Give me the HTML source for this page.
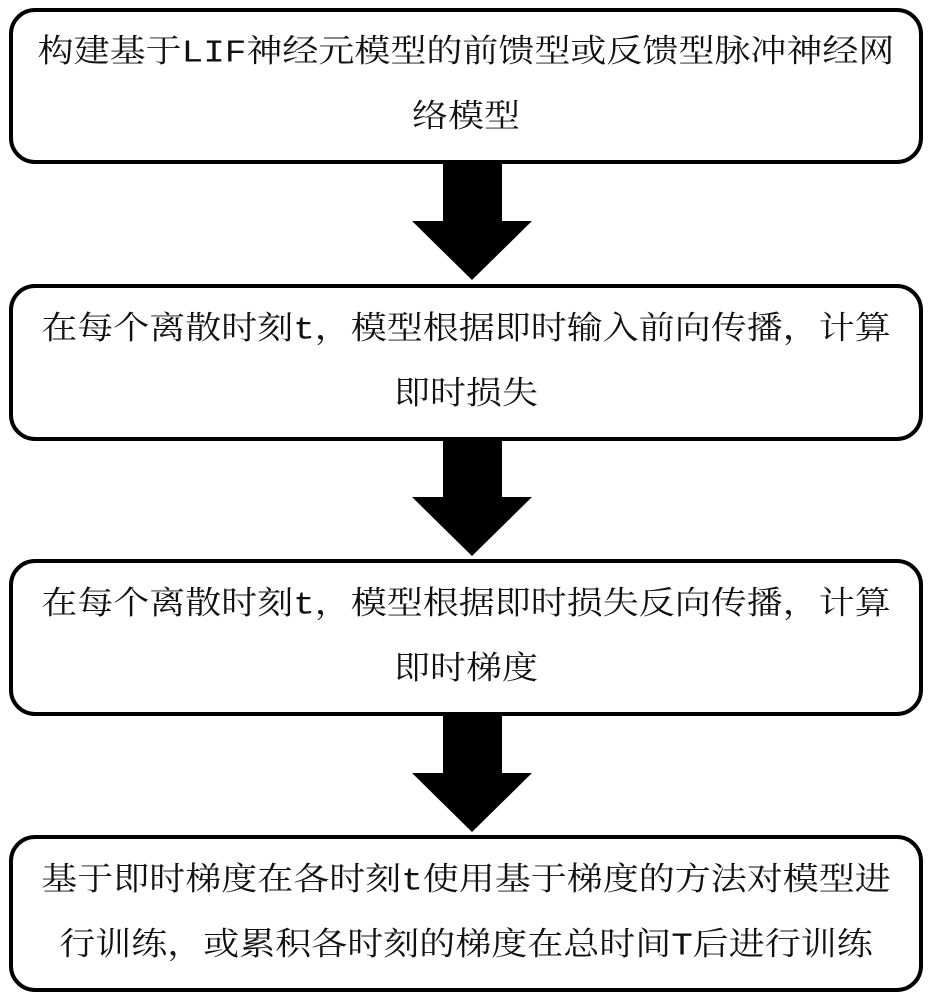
<!DOCTYPE html>
<html><head><meta charset="utf-8"><style>
body{margin:0;width:940px;height:1000px;background:#fff;position:relative;overflow:hidden}
.b{position:absolute;left:9px;width:914px;border:4px solid #000;border-radius:26px;box-sizing:border-box;display:flex;align-items:center;justify-content:center;text-align:center}
.t{font-family:"Liberation Mono","Noto Serif CJK SC",serif;font-size:36px;line-height:74px;color:#111;transform:scaleY(0.88);white-space:nowrap}
svg{position:absolute;left:0;top:0}
</style></head><body>
<div class="b" style="top:8px;height:156px"><div class="t">构建基于LIF神经元模型的前馈型或反馈型脉冲神经网<br>络模型</div></div>
<div class="b" style="top:284px;height:157px"><div class="t">在每个离散时刻t，模型根据即时输入前向传播，计算<br>即时损失</div></div>
<div class="b" style="top:559px;height:157px"><div class="t">在每个离散时刻t，模型根据即时损失反向传播，计算<br>即时梯度</div></div>
<div class="b" style="top:835px;height:157px"><div class="t">基于即时梯度在各时刻t使用基于梯度的方法对模型进<br>行训练，或累积各时刻的梯度在总时间T后进行训练</div></div>
<svg width="940" height="1000">
<polygon points="443,164 502,164 502,221 532,221 472,280 412,221 443,221"/>
<polygon points="443,441 502,441 502,497 532,497 472,556 412,497 443,497"/>
<polygon points="443,716 502,716 502,773 532,773 472,832 412,773 443,773"/>
</svg>
</body></html>
